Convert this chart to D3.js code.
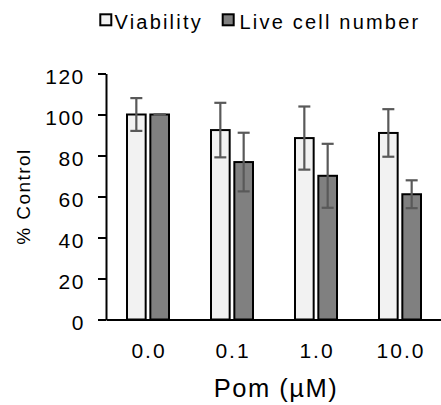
<!DOCTYPE html>
<html>
<head>
<meta charset="utf-8">
<script src="https://cdn.jsdelivr.net/npm/d3@7"></script>
<style>
  html, body { margin: 0; padding: 0; background: #fff; }
  svg { display: block; }
  text { font-family: "Liberation Sans", Arial, sans-serif; fill: #000; }
</style>
</head>
<body>
<div id="chart"></div>
<script>
// ---- Data ----
const categories = ["0.0", "0.1", "1.0", "10.0"];
const seriesNames = ["Viability", "Live cell number"];
const viability = [100, 92.4, 88.5, 91.0];
const viabilityErr = [8.0, 13.3, 15.4, 11.6];
const liveCells = [100, 76.8, 70.1, 61.1];
const liveCellsErr = [0, 14.3, 15.6, 6.8];
const yTicks = [0, 20, 40, 60, 80, 100, 120];
const xTitle = "Pom (\u00B5M)";
const yTitle = "% Control";

// ---- Layout ----
const W = 441, H = 405;
const fills = ["#f2f2f2", "#808080"];
const errColor = "#595959";
const FONT = "'Liberation Sans', Arial, sans-serif";

const svg = d3.select("#chart").append("svg")
  .attr("width", W).attr("height", H);

const x0 = d3.scaleBand().domain(categories).range([106, 442]).paddingInner(0).paddingOuter(0);
const x1 = d3.scaleBand().domain(seriesNames).range([21, 63]).paddingInner(0.2);
const y = d3.scaleLinear().domain([0, 120]).range([319.5, 73.5]);

const rows = categories.map((c, i) => ({
  cat: c,
  vals: [
    { s: seriesNames[0], v: viability[i], e: viabilityErr[i], f: fills[0] },
    { s: seriesNames[1], v: liveCells[i], e: liveCellsErr[i], f: fills[1] }
  ]
}));

// Bars
const g = svg.append("g");
const groups = g.selectAll("g.grp").data(rows).join("g")
  .attr("class", "grp")
  .attr("transform", d => `translate(${x0(d.cat)},0)`);

groups.selectAll("rect").data(d => d.vals).join("rect")
  .attr("x", d => x1(d.s))
  .attr("width", x1.bandwidth())
  .attr("y", d => y(d.v))
  .attr("height", d => y(0) - y(d.v))
  .attr("fill", d => d.f)
  .attr("stroke", "#000")
  .attr("stroke-width", 2);

// Error bars
const capW = 12;
const eb = groups.selectAll("g.err").data(d => d.vals).join("g").attr("class", "err")
  .attr("stroke", errColor).attr("stroke-width", 2.2);
eb.append("line")
  .attr("x1", d => x1(d.s) + x1.bandwidth() / 2)
  .attr("x2", d => x1(d.s) + x1.bandwidth() / 2)
  .attr("y1", d => y(d.v + d.e))
  .attr("y2", d => y(d.v - d.e));
eb.append("line")
  .attr("x1", d => x1(d.s) + x1.bandwidth() / 2 - capW / 2)
  .attr("x2", d => x1(d.s) + x1.bandwidth() / 2 + capW / 2)
  .attr("y1", d => y(d.v + d.e))
  .attr("y2", d => y(d.v + d.e));
eb.append("line")
  .attr("x1", d => x1(d.s) + x1.bandwidth() / 2 - capW / 2)
  .attr("x2", d => x1(d.s) + x1.bandwidth() / 2 + capW / 2)
  .attr("y1", d => y(d.v - d.e))
  .attr("y2", d => y(d.v - d.e));

// Y axis
const yAxis = svg.append("g")
  .attr("transform", "translate(106,0)")
  .call(d3.axisLeft(y).tickValues(yTicks).tickSize(8).tickSizeOuter(0).tickPadding(13.2));
yAxis.select(".domain").attr("stroke", "#000").attr("stroke-width", 2);
yAxis.selectAll(".tick line").attr("stroke", "#000").attr("stroke-width", 2);
yAxis.selectAll(".tick text")
  .attr("dy", "10px")
  .style("font-family", FONT)
  .style("font-size", "21px")
  .style("letter-spacing", "1.5px")
  .attr("fill", "#000");

// X axis
const xAxis = svg.append("g")
  .attr("transform", `translate(0,${y(0)})`)
  .call(d3.axisBottom(x0).tickSize(0).tickSizeOuter(0).tickPadding(24));
xAxis.select(".domain").attr("stroke", "#000").attr("stroke-width", 2);
xAxis.selectAll(".tick text")
  .attr("dx", "1px")
  .style("font-family", FONT)
  .style("font-size", "21px")
  .style("letter-spacing", "2px")
  .attr("fill", "#000");

// Axis titles
svg.append("text")
  .attr("x", 276)
  .attr("y", 397.3)
  .attr("text-anchor", "middle")
  .style("font-size", "25.5px")
  .style("letter-spacing", "1.5px")
  .text(xTitle);

svg.append("text")
  .attr("transform", `translate(30,${(y(0) + y(120)) / 2}) rotate(-90)`)
  .attr("text-anchor", "middle")
  .style("font-size", "19px")
  .style("letter-spacing", "1.45px")
  .text(yTitle);

// Legend
const legendX = [100.3, 222.7];
const legendTextX = [114.5, 239.5];
const lg = svg.append("g").selectAll("g").data(seriesNames).join("g");
lg.append("rect")
  .attr("x", (d, i) => legendX[i]).attr("y", 14.3)
  .attr("width", 11).attr("height", 11)
  .attr("fill", (d, i) => fills[i])
  .attr("stroke", "#000").attr("stroke-width", 2);
lg.append("text")
  .attr("x", (d, i) => legendTextX[i]).attr("y", 29)
  .style("font-size", "20px")
  .style("letter-spacing", "2.2px")
  .text(d => d);
</script>
</body>
</html>
